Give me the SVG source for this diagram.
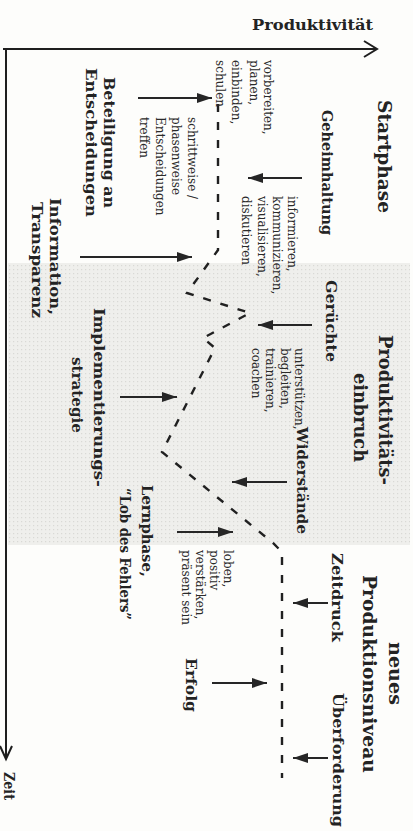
<svg xmlns="http://www.w3.org/2000/svg" width="413" height="831" viewBox="0 0 413 831">
  <style>
    .main { font-family: "DejaVu Serif", "Liberation Serif", serif; font-weight: bold; font-size: 18px; fill: #232323; }
    .lbl { font-family: "DejaVu Serif", "Liberation Serif", serif; font-weight: bold; font-size: 15.5px; fill: #232323; }
    .small { font-family: "DejaVu Serif", "Liberation Serif", serif; font-size: 12px; fill: #2a2a2a; }
    .axis { fill: none; stroke: #1e1e1e; stroke-width: 2; }
    .arrow { fill: none; stroke: #262626; stroke-width: 1.8; marker-end: url(#head); }
    .curve { fill: none; stroke: #202020; stroke-width: 2.4; stroke-dasharray: 8 10; }
  </style>
  <defs>
    <marker id="head" markerUnits="userSpaceOnUse" markerWidth="16" markerHeight="12" refX="15" refY="5" orient="auto">
      <path d="M0,0 L15,5 L0,10 z" fill="#262626"/>
    </marker>
    <pattern id="stipple" width="4" height="4" patternUnits="userSpaceOnUse">
      <rect width="4" height="4" fill="#efefec"/>
      <rect x="1" y="1" width="1.2" height="1.2" fill="#d9d9d5"/>
    </pattern>
  </defs>

  <rect width="413" height="831" fill="#fdfdfb"/>

  <!-- shaded phase band: productivity dip -->
  <rect id="dip-band" x="8" y="263" width="402" height="282" fill="url(#stipple)"/>

  <!-- axes -->
  <g id="axes">
    <path class="axis" d="M3,49 H376"/>
    <path class="axis" d="M364,41 L377,49 L364,57"/>
    <path class="axis" d="M6,48 V759"/>
    <path class="axis" d="M0,746 L6,759 L12,746"/>
    <text x="252" y="30" class="lbl" textLength="121" lengthAdjust="spacingAndGlyphs">Produktivität</text>
    <text class="lbl" font-size="13" transform="rotate(90)" x="772" y="-4" textLength="28" lengthAdjust="spacingAndGlyphs">Zeit</text>
  </g>

  <!-- connectors: productivity curve and influence arrows -->
  <g id="connectors">
    <path class="curve" d="M218,104 V250 L187,293 L250,313 L203,338 L215,348 L162,452 L273,543 L282,552 V778"/>
    <path class="arrow" d="M138,98 H212"/>
    <path class="arrow" d="M302,178 H248"/>
    <path class="arrow" d="M80,257 H192"/>
    <path class="arrow" d="M312,325 H258"/>
    <path class="arrow" d="M120,397 H177"/>
    <path class="arrow" d="M287,482 H232"/>
    <path class="arrow" d="M177,532 H233"/>
    <path class="arrow" d="M328,603 H293"/>
    <path class="arrow" d="M212,683 H267"/>
    <path class="arrow" d="M328,758 H293"/>
  </g>

  <!-- phase titles -->
  <g id="startphase" transform="rotate(90)">
    <text class="main" x="100" y="-378" textLength="113" lengthAdjust="spacingAndGlyphs">Startphase</text>
  </g>
  <g id="einbruch" transform="rotate(90)">
    <text class="main" x="335" y="-379" textLength="150" lengthAdjust="spacingAndGlyphs">Produktivitäts-</text>
    <text class="main" x="373" y="-354" textLength="89" lengthAdjust="spacingAndGlyphs">einbruch</text>
  </g>
  <g id="niveau" transform="rotate(90)">
    <text class="main" x="642" y="-389" textLength="63" lengthAdjust="spacingAndGlyphs">neues</text>
    <text class="main" x="575" y="-363" textLength="198" lengthAdjust="spacingAndGlyphs">Produktionsniveau</text>
  </g>

  <!-- obstacles (right side) -->
  <g id="geheimhaltung" transform="rotate(90)">
    <text class="lbl" x="110" y="-322" textLength="125" lengthAdjust="spacingAndGlyphs">Geheimhaltung</text>
  </g>
  <g id="geruechte" transform="rotate(90)">
    <text class="lbl" x="280" y="-326" textLength="82" lengthAdjust="spacingAndGlyphs">Gerüchte</text>
  </g>
  <g id="widerstaende" transform="rotate(90)">
    <text class="lbl" x="427" y="-297" textLength="107" lengthAdjust="spacingAndGlyphs">Widerstände</text>
  </g>
  <g id="zeitdruck" transform="rotate(90)">
    <text class="lbl" x="553" y="-332" textLength="89" lengthAdjust="spacingAndGlyphs">Zeitdruck</text>
  </g>
  <g id="ueberforderung" transform="rotate(90)">
    <text class="lbl" x="693" y="-333" textLength="134" lengthAdjust="spacingAndGlyphs">Überforderung</text>
  </g>

  <!-- supports (left side) -->
  <g id="beteiligung" transform="rotate(90)">
    <text class="lbl" x="77" y="-104" textLength="131" lengthAdjust="spacingAndGlyphs">Beteiligung an</text>
    <text class="lbl" x="68" y="-86" textLength="149" lengthAdjust="spacingAndGlyphs">Entscheidungen</text>
  </g>
  <g id="information" transform="rotate(90)">
    <text class="lbl" x="198" y="-50" textLength="117" lengthAdjust="spacingAndGlyphs">Information,</text>
    <text class="lbl" x="202" y="-32" textLength="116" lengthAdjust="spacingAndGlyphs">Transparenz</text>
  </g>
  <g id="implementierung" transform="rotate(90)">
    <text class="lbl" x="308" y="-94" textLength="179" lengthAdjust="spacingAndGlyphs">Implementierungs-</text>
    <text class="lbl" x="357" y="-72" textLength="76" lengthAdjust="spacingAndGlyphs">strategie</text>
  </g>
  <g id="lernphase" transform="rotate(90)">
    <text class="lbl" x="485" y="-142" textLength="92" lengthAdjust="spacingAndGlyphs">Lernphase,</text>
    <text class="lbl" x="488" y="-120" textLength="132" lengthAdjust="spacingAndGlyphs">“Lob des Fehlers”</text>
  </g>
  <g id="erfolg" transform="rotate(90)">
    <text class="lbl" x="658" y="-186" textLength="54" lengthAdjust="spacingAndGlyphs">Erfolg</text>
  </g>

  <!-- actions -->
  <g id="act-start" transform="rotate(90)" class="small">
    <text x="60" y="-264">vorbereiten,</text>
    <text x="60" y="-250">planen,</text>
    <text x="60" y="-232">einbinden,</text>
    <text x="60" y="-216">schulen</text>
  </g>
  <g id="act-beteiligung" transform="rotate(90)" class="small">
    <text x="117" y="-188">schrittweise /</text>
    <text x="117" y="-172">phasenweise</text>
    <text x="117" y="-156">Entscheidungen</text>
    <text x="117" y="-140">treffen</text>
  </g>
  <g id="act-info" transform="rotate(90)" class="small">
    <text x="196" y="-288">informieren,</text>
    <text x="196" y="-273">kommunizieren,</text>
    <text x="196" y="-258">visualisieren,</text>
    <text x="196" y="-242">diskutieren</text>
  </g>
  <g id="act-support" transform="rotate(90)" class="small" font-size="11px">
    <text x="348" y="-295">unterstützen,</text>
    <text x="348" y="-281">begleiten,</text>
    <text x="348" y="-266">trainieren,</text>
    <text x="348" y="-252">coachen</text>
  </g>
  <g id="act-lob" transform="rotate(90)" class="small">
    <text x="550" y="-224">loben,</text>
    <text x="550" y="-210">positiv</text>
    <text x="550" y="-196">verstärken,</text>
    <text x="550" y="-182">präsent sein</text>
  </g>
</svg>
